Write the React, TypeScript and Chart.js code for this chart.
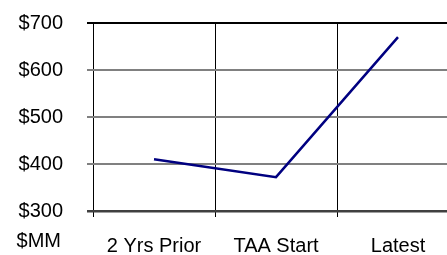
import React, { useEffect, useRef } from "react";
import { Chart, registerables } from "chart.js";

Chart.register(...registerables);

const categories = ["2 Yrs Prior", "TAA Start", "Latest"];
const values = [410, 372, 670];
const yMin = 300;
const yMax = 700;
const yStep = 100;
const unitLabel = "$MM";

const FONT = "'Liberation Sans', Arial, sans-serif";
const FONT_SIZE = 20;

export default function App() {
  const ref = useRef<HTMLCanvasElement | null>(null);

  useEffect(() => {
    if (!ref.current) return;
    const unitPlugin = {
      id: "unitLabel",
      afterDraw(chart: any) {
        const ctx = chart.ctx;
        ctx.save();
        ctx.font = `${FONT_SIZE}px ${FONT}`;
        ctx.fillStyle = "#000";
        ctx.textAlign = "right";
        ctx.textBaseline = "middle";
        ctx.fillText(unitLabel, 61, 241);
        ctx.restore();
      },
    };
    const chart = new Chart(ref.current, {
      type: "line",
      data: {
        labels: categories,
        datasets: [
          {
            data: values,
            borderColor: "#000080",
            borderWidth: 2.5,
            pointRadius: 0,
            tension: 0,
            fill: false,
          },
        ],
      },
      options: {
        animation: false,
        responsive: false,
        maintainAspectRatio: false,
        layout: { padding: { top: 23, right: 11, left: 0, bottom: 0 } },
        plugins: { legend: { display: false }, tooltip: { enabled: false } },
        scales: {
          x: {
            offset: true,
            grid: {
              offset: true,
              color: "#000",
              lineWidth: 1,
              drawTicks: true,
              tickLength: 6,
            },
            border: { display: false },
            ticks: {
              color: "#000",
              font: { family: FONT, size: FONT_SIZE },
              padding: 17,
              maxRotation: 0,
              autoSkip: false,
            },
            afterFit(scale: any) {
              scale.height = 44;
              scale.paddingLeft = 0;
              scale.paddingRight = 0;
            },
          },
          y: {
            min: yMin,
            max: yMax,
            grid: {
              color: (c: any) =>
                c.tick && c.tick.value === yMax
                  ? "#000"
                  : c.tick && c.tick.value === yMin
                  ? "#404040"
                  : "#808080",
              lineWidth: (c: any) => (c.tick && c.tick.value === yMin ? 2.5 : 2),
              drawTicks: true,
              tickLength: 6,
            },
            border: { display: false },
            ticks: {
              stepSize: yStep,
              color: "#000",
              font: { family: FONT, size: FONT_SIZE },
              padding: 24,
              callback: (v: any) => "$" + v,
            },
            afterFit(scale: any) {
              scale.width = 93;
              scale.paddingTop = 0;
              scale.paddingBottom = 0;
            },
          },
        },
      },
      plugins: [unitPlugin],
    });
    return () => chart.destroy();
  }, []);

  return (
    <div
      style={{
        position: "fixed",
        left: 0,
        top: 0,
        width: 447,
        height: 255,
        overflow: "hidden",
        background: "#fff",
      }}
    >
      <canvas ref={ref} width={470} height={255} style={{ display: "block" }} />
    </div>
  );
}
